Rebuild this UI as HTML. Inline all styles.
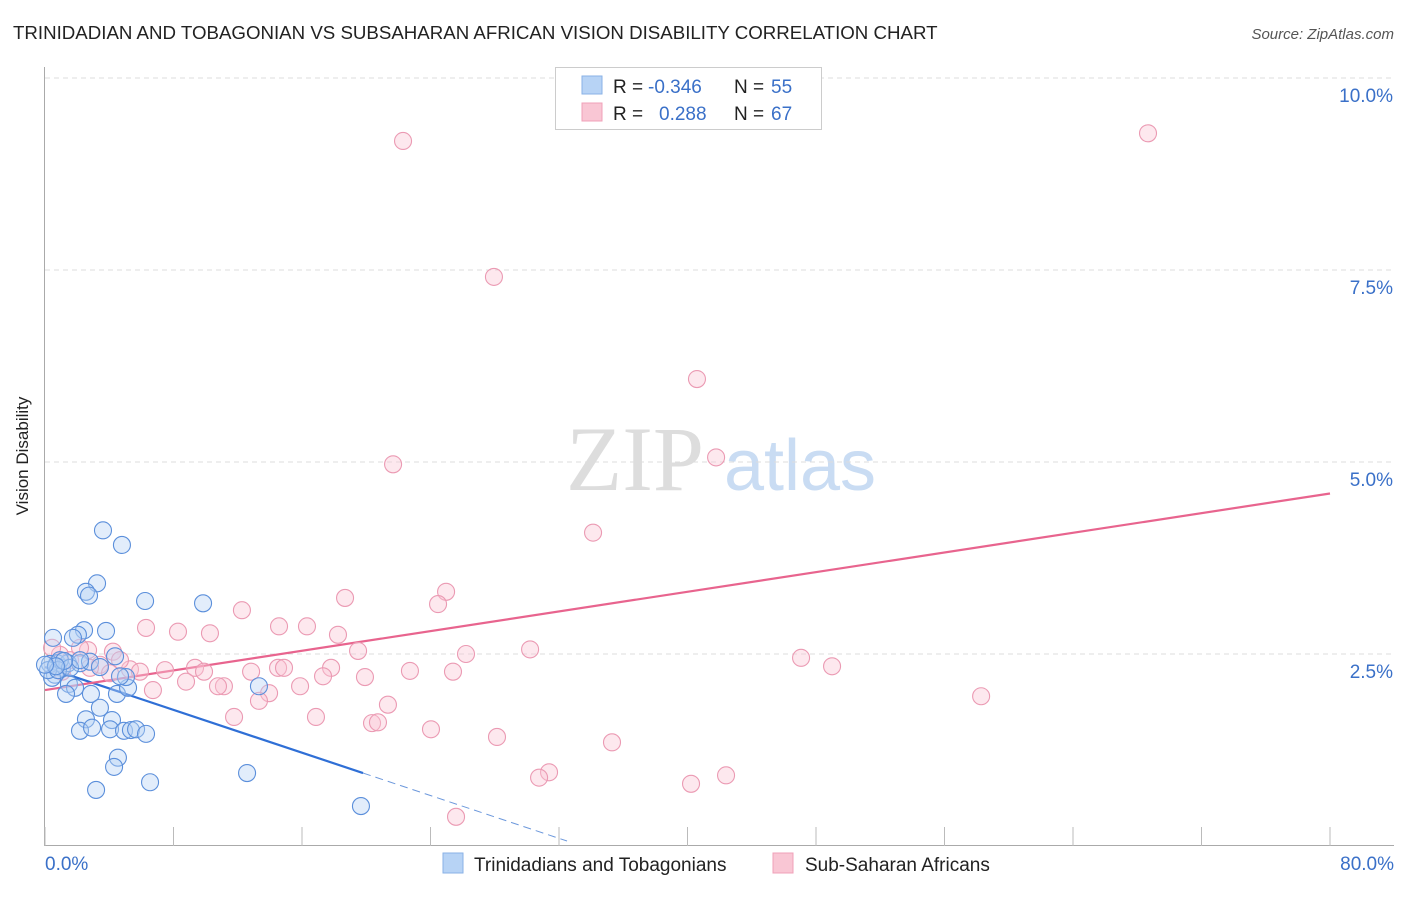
<!DOCTYPE html>
<html><head><meta charset="utf-8"><style>
body{margin:0;background:#fff;}
svg text{font-family:"Liberation Sans",sans-serif;}
</style></head><body>
<svg id="chart" width="1406" height="892" xmlns="http://www.w3.org/2000/svg">
<text x="13" y="39" font-size="18.7" fill="#222">TRINIDADIAN AND TOBAGONIAN VS SUBSAHARAN AFRICAN VISION DISABILITY CORRELATION CHART</text>
<text x="1394" y="39" font-size="15" fill="#555" font-style="italic" text-anchor="end">Source: ZipAtlas.com</text>
<text x="28" y="456" font-size="17" fill="#222" text-anchor="middle" transform="rotate(-90 28 456)">Vision Disability</text>
<g><text x="635" y="490" font-size="92" fill="#ddd" text-anchor="middle" style="font-family:'Liberation Serif',serif">ZIP</text><text x="800" y="490" font-size="72" fill="#c9dcf3" text-anchor="middle">atlas</text></g>
<g id="grid"></g>
<g id="axes"></g>
<g id="trend"></g>
<g id="pts"></g>
<g>
<rect x="555.5" y="67.5" width="266" height="62" fill="#fff" stroke="#ccc"/>
<rect x="582" y="76" width="20" height="18" fill="#b7d3f5" stroke="#8ab1e6"/>
<rect x="582" y="103" width="20" height="18" fill="#f9c6d4" stroke="#f0a0b8"/>
<text x="613" y="93" font-size="19" fill="#222">R =</text><text x="648" y="93" font-size="19" fill="#3a70c8">-0.346</text>
<text x="734" y="93" font-size="19" fill="#222">N =</text><text x="771" y="93" font-size="19" fill="#3a70c8">55</text>
<text x="613" y="120" font-size="19" fill="#222">R =</text><text x="659" y="120" font-size="19" fill="#3a70c8">0.288</text>
<text x="734" y="120" font-size="19" fill="#222">N =</text><text x="771" y="120" font-size="19" fill="#3a70c8">67</text>
</g>
<g>
<rect x="443" y="853" width="20" height="20" fill="#b7d3f5" stroke="#8ab1e6"/>
<text x="474" y="871" font-size="19" fill="#222">Trinidadians and Tobagonians</text>
<rect x="773" y="853" width="20" height="20" fill="#f9c6d4" stroke="#f0a0b8"/>
<text x="805" y="871" font-size="19" fill="#222">Sub-Saharan Africans</text>
</g>
</svg>
<script>
const yTicks=[2.5,5.0,7.5,10.0];
const yTickLabels=["2.5%","5.0%","7.5%","10.0%"];
const xTicks=[0,8,16,24,32,40,48,56,64,72,80];
const blueX=[3.61,4.79,3.24,2.55,2.74,6.23,9.84,0.50,2.43,2.05,3.80,1.74,4.36,0.75,1.06,1.43,0.62,0.44,1.49,1.87,1.31,2.86,4.48,5.17,5.04,13.32,3.42,2.55,4.17,2.18,2.93,4.05,4.92,5.35,5.67,6.29,4.54,4.30,6.54,3.18,12.58,19.67,0.31,0.93,2.18,2.80,3.42,0.19,0.81,1.56,4.67,2.18,1.18,0.68,0.0];
const blueY=[4.11,3.92,3.42,3.31,3.26,3.19,3.16,2.71,2.81,2.75,2.80,2.71,2.47,2.38,2.32,2.38,2.23,2.19,2.11,2.06,1.98,1.98,1.98,2.06,2.20,2.08,1.80,1.65,1.64,1.50,1.54,1.52,1.50,1.51,1.52,1.46,1.15,1.03,0.83,0.73,0.95,0.52,2.37,2.42,2.38,2.40,2.33,2.29,2.29,2.32,2.21,2.42,2.41,2.34,2.36];
const pinkX=[22.29,68.67,27.95,40.59,21.67,41.78,34.12,24.97,24.47,18.68,12.26,6.29,8.28,10.27,14.57,16.31,18.24,30.20,26.21,19.49,47.07,49.00,58.28,2.68,4.23,5.29,7.47,9.34,9.90,11.14,10.77,8.78,6.72,12.83,14.51,14.88,17.81,17.31,15.88,13.95,13.32,19.92,22.72,25.40,21.35,20.36,20.73,16.87,11.77,24.03,28.14,35.30,31.38,30.76,42.40,40.22,25.59,0.93,1.56,3.42,4.67,5.91,0.44,1.06,2.80,4.05,2.18];
const pinkY=[9.18,9.28,7.41,6.08,4.97,5.06,4.08,3.31,3.15,3.23,3.07,2.84,2.79,2.77,2.86,2.86,2.75,2.56,2.50,2.54,2.45,2.34,1.95,2.55,2.53,2.30,2.29,2.32,2.27,2.08,2.08,2.14,2.03,2.27,2.32,2.32,2.32,2.21,2.08,1.99,1.89,2.20,2.28,2.27,1.84,1.60,1.61,1.68,1.68,1.52,1.42,1.35,0.96,0.89,0.92,0.81,0.38,2.49,2.42,2.36,2.42,2.27,2.58,2.27,2.32,2.25,2.58];
const blueTrend=[2.33,0.95,19.8,32.5];
const pinkTrend=[2.03,4.59];
const NS="http://www.w3.org/2000/svg";
const X=v=>45+v/80*1285;
const Y=v=>846-v/2.5*192;
function mk(parent,tag,attrs){const e=document.createElementNS(NS,tag);for(const k in attrs)e.setAttribute(k,attrs[k]);document.getElementById(parent).appendChild(e);return e;}
yTicks.forEach((t,i)=>{
 const g=mk('grid','line',{x1:45,x2:1394,y1:Y(t),y2:Y(t),stroke:'#ddd','stroke-dasharray':'5,4'});
 
 
 const l=mk('grid','text',{x:1393,y:Y(t)+24,'font-size':19,fill:'#3a70c8','text-anchor':'end'});
 l.textContent=yTickLabels[i];
 
 
});
const ax=mk('axes','line',{x1:44.5,x2:44.5,y1:67,y2:846,stroke:'#aaa'});


const bx=mk('axes','line',{x1:44,x2:1394,y1:845.5,y2:845.5,stroke:'#aaa'});


xTicks.forEach(t=>{
 const tk=mk('axes','line',{x1:X(t),x2:X(t),y1:827,y2:846,stroke:'#bbb'});
 
 
});
const x0=mk('axes','text',{x:45,y:870,'font-size':19,fill:'#3a70c8'});x0.textContent=xTicks[0].toFixed(1)+'%';


const x1=mk('axes','text',{x:1394,y:870,'font-size':19,fill:'#3a70c8','text-anchor':'end'});x1.textContent=xTicks[xTicks.length-1].toFixed(1)+'%';


function drawPts(xs,ys,fill,stroke,name){xs.forEach((x,i)=>{
 const c=mk('pts','circle',{cx:X(x),cy:Y(ys[i]),r:8.5,fill:fill,'fill-opacity':0.4,stroke:stroke,'stroke-width':1.1});
 
 
});}
drawPts(pinkX,pinkY,'#f9c6d4','#eb9ab3','subsaharan-point');
drawPts(blueX,blueY,'#b7d3f5','#5b8fdb','trinidadian-point');
const bslope=(blueTrend[1]-blueTrend[0])/blueTrend[2];
const bl=mk('trend','line',{x1:X(0),y1:Y(blueTrend[0]),x2:X(blueTrend[2]),y2:Y(blueTrend[1]),stroke:'#2f6fd6','stroke-width':2.2});


const bd=mk('trend','line',{x1:X(blueTrend[2]),y1:Y(blueTrend[1]),x2:X(blueTrend[3]),y2:Y(blueTrend[0]+bslope*blueTrend[3]),stroke:'#6c98dc','stroke-width':1,'stroke-dasharray':'8,5'});


const pl=mk('trend','line',{x1:X(0),y1:Y(pinkTrend[0]),x2:X(80),y2:Y(pinkTrend[1]),stroke:'#e8648e','stroke-width':2.2});


</script>
</body></html>
